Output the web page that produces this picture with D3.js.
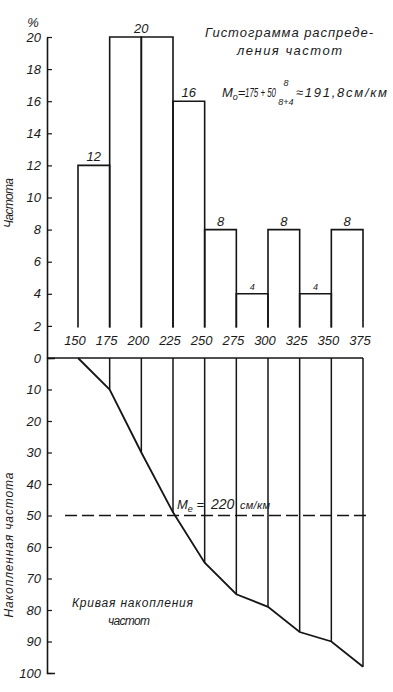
<!DOCTYPE html>
<html>
<head>
<meta charset="utf-8">
<script src="https://cdn.jsdelivr.net/npm/d3@7"></script>
<style>
  html, body { margin: 0; padding: 0; background: #fff; }
  svg { display: block; }
  text { font-family: "Liberation Sans", "DejaVu Sans", sans-serif; font-style: italic; fill: #1a1a1a; }
</style>
</head>
<body>
<svg id="chart" width="393" height="692"></svg>
<script>
// ---- data ----
const binEdges = [150, 175, 200, 225, 250, 275, 300, 325, 350, 375];
const frequencies = [12, 20, 20, 16, 8, 4, 8, 4, 8];            // % per interval
const cumulative = [0, 10, 30, 49, 65, 75, 79, 87, 90, 98];       // accumulated %, read at each edge
const xTickLabels = ["150", "175", "200", "225", "250", "275", "300", "325", "350", "375"];
const freqTicks = [2, 4, 6, 8, 10, 12, 14, 16, 18, 20];
const cumTicks = [0, 10, 20, 30, 40, 50, 60, 70, 80, 90, 100];
const medianLevel = 50;

const svg = d3.select("#chart");
const ink = "#151515";

const x = d3.scaleLinear().domain([150, 375]).range([78, 363]);
const yF = d3.scaleLinear().domain([0, 20]).range([358, 37]);
const yC = d3.scaleLinear().domain([0, 100]).range([358, 673]);
const axisX = 47;

// ---- axes ----
const gF = svg.append("g").attr("transform", `translate(${axisX},0)`)
  .call(d3.axisLeft(yF).tickValues(freqTicks).tickSizeInner(-5).tickSizeOuter(0).tickPadding(6));
const gC = svg.append("g").attr("transform", `translate(${axisX},0)`)
  .call(d3.axisLeft(yC).tickValues(cumTicks).tickSizeInner(-5).tickSizeOuter(-8).tickPadding(6));
[gF, gC].forEach(g => {
  g.selectAll("path.domain").attr("stroke", ink).attr("stroke-width", 1.6);
  g.selectAll(".tick line").attr("stroke", ink).attr("stroke-width", 1.2);
  g.selectAll(".tick text").attr("font-size", 13).attr("fill", "#1a1a1a")
    .style("font-family", '"Liberation Sans", sans-serif').style("font-style", "italic");
});

// "%" unit
svg.append("text").attr("x", 33).attr("y", 27).attr("text-anchor", "middle").attr("font-size", 13).text("%");

// ---- histogram (outlined bars) ----
const barBase = 1.9;
svg.append("g").selectAll("path").data(frequencies).join("path")
  .attr("d", (v, i) => `M${x(binEdges[i])},${yF(barBase)}V${yF(v)}H${x(binEdges[i + 1])}V${yF(barBase)}`)
  .attr("fill", "none").attr("stroke", ink).attr("stroke-width", 1.6);

// value labels (equal neighbours share one label)
const groups = [];
frequencies.forEach((v, i) => {
  const last = groups[groups.length - 1];
  if (last && last.v === v && last.end === i) { last.end = i + 1; }
  else groups.push({ v, start: i, end: i + 1 });
});
svg.append("g").selectAll("text").data(groups).join("text")
  .attr("x", d => (x(binEdges[d.start]) + x(binEdges[d.end])) / 2)
  .attr("y", d => yF(d.v) - 4)
  .attr("text-anchor", "middle")
  .attr("font-size", d => d.v < 5 ? 9 : 13)
  .text(d => d.v);

// interval edge labels
svg.append("g").selectAll("text").data(binEdges).join("text")
  .attr("x", (d) => x(d) - 3).attr("y", 345)
  .attr("text-anchor", "middle").attr("font-size", 13)
  .text((d, i) => xTickLabels[i]);

// ---- zero line ----
svg.append("line").attr("x1", axisX).attr("x2", x(375)).attr("y1", yC(0)).attr("y2", yC(0))
  .attr("stroke", ink).attr("stroke-width", 1.6);

// ---- cumulative curve ----
svg.append("g").selectAll("line").data(binEdges.filter((d, i) => cumulative[i] > 0)).join("line")
  .attr("x1", d => x(d)).attr("x2", d => x(d))
  .attr("y1", yC(0)).attr("y2", d => yC(cumulative[binEdges.indexOf(d)]))
  .attr("stroke", ink).attr("stroke-width", 1.5);

const line = d3.line().x((d, i) => x(binEdges[i])).y(d => yC(d));
svg.append("path").datum(cumulative).attr("d", line)
  .attr("fill", "none").attr("stroke", ink).attr("stroke-width", 1.8);

// median dashed line
svg.append("line").attr("x1", 65).attr("x2", 366).attr("y1", yC(medianLevel)).attr("y2", yC(medianLevel))
  .attr("stroke", ink).attr("stroke-width", 1.3).attr("stroke-dasharray", "12,5");

const me = svg.append("text").attr("x", 177).attr("y", 509).attr("font-size", 13);
me.append("tspan").text("M");
me.append("tspan").attr("font-size", 9).attr("dy", 3).text("е");
me.append("tspan").attr("dy", -3).text(" =");
me.append("tspan").attr("x", 211).attr("font-size", 14).text("220");
me.append("tspan").attr("x", 240).attr("font-size", 11).attr("textLength", 30).text("см/км");

// ---- titles ----
svg.append("text").attr("x", 205).attr("y", 37).attr("font-size", 13)
  .attr("textLength", 168).attr("lengthAdjust", "spacing").text("Гистограмма распреде-");
svg.append("text").attr("x", 237).attr("y", 55).attr("font-size", 13)
  .attr("textLength", 105).attr("lengthAdjust", "spacing").text("ления частот");

const f1 = svg.append("text").attr("x", 222).attr("y", 97).attr("font-size", 13);
f1.append("tspan").text("M");
f1.append("tspan").attr("font-size", 9).attr("dy", 3).text("о");
f1.append("tspan").attr("dy", -3).text("=");
svg.append("text").attr("transform", "translate(245,97) scale(0.66,1)").attr("font-size", 12)
  .text("175 + 50");
svg.append("text").attr("x", 286).attr("y", 86).attr("font-size", 9).attr("text-anchor", "middle").text("8");
svg.append("text").attr("x", 286).attr("y", 105).attr("font-size", 9).attr("text-anchor", "middle").text("8+4");
svg.append("text").attr("x", 296).attr("y", 97).attr("font-size", 13)
  .attr("textLength", 91).attr("lengthAdjust", "spacing").text("≈191,8см/км");

svg.append("text").attr("x", 72).attr("y", 607).attr("font-size", 12)
  .attr("textLength", 121).attr("lengthAdjust", "spacing").text("Кривая  накопления");
svg.append("text").attr("x", 108).attr("y", 625).attr("font-size", 12)
  .attr("textLength", 42).attr("lengthAdjust", "spacing").text("частот");

svg.append("text").attr("transform", "translate(13,203) rotate(-90)").attr("text-anchor", "middle")
  .attr("font-size", 12).attr("textLength", 50).attr("lengthAdjust", "spacing").text("Частота");
svg.append("text").attr("transform", "translate(13,545) rotate(-90)").attr("text-anchor", "middle")
  .attr("font-size", 12).attr("textLength", 145).attr("lengthAdjust", "spacing").text("Накопленная  частота");
</script>
</body>
</html>
